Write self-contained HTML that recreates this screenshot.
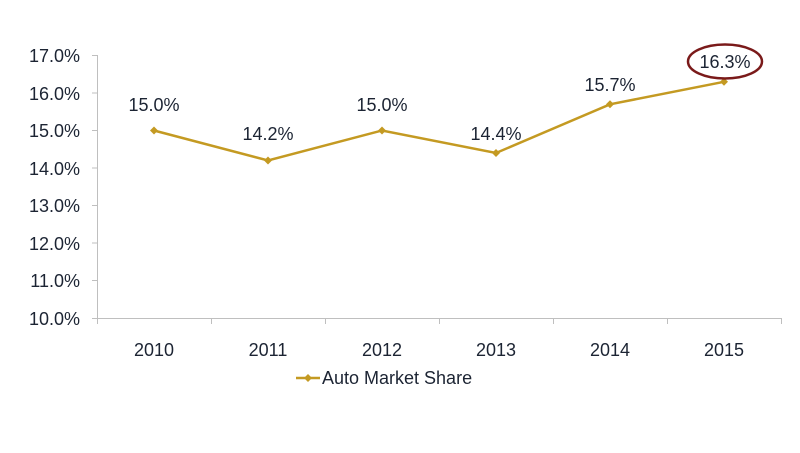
<!DOCTYPE html>
<html><head><style>body{margin:0;background:#fff}</style></head><body>
<svg width="800" height="448" xmlns="http://www.w3.org/2000/svg" font-family="Liberation Sans, sans-serif" font-size="18" fill="#1c2433">
<g stroke="#bfbfbf" stroke-width="1">
<line x1="97.5" y1="55" x2="97.5" y2="324"/>
<line x1="92" y1="318.5" x2="781" y2="318.5"/>
<g>
<line x1="92" y1="55.5" x2="97" y2="55.5"/><line x1="92" y1="93" x2="97" y2="93"/><line x1="92" y1="130.5" x2="97" y2="130.5"/><line x1="92" y1="168" x2="97" y2="168"/><line x1="92" y1="205.5" x2="97" y2="205.5"/><line x1="92" y1="243" x2="97" y2="243"/><line x1="92" y1="280.5" x2="97" y2="280.5"/>
<line x1="211.5" y1="318" x2="211.5" y2="324"/><line x1="325.5" y1="318" x2="325.5" y2="324"/><line x1="439.5" y1="318" x2="439.5" y2="324"/><line x1="553.5" y1="318" x2="553.5" y2="324"/><line x1="667.5" y1="318" x2="667.5" y2="324"/><line x1="781.5" y1="318" x2="781.5" y2="324"/>
</g></g>
<g text-anchor="end">
<text x="80" y="62">17.0%</text><text x="80" y="100">16.0%</text><text x="80" y="137">15.0%</text><text x="80" y="175">14.0%</text><text x="80" y="212">13.0%</text><text x="80" y="250">12.0%</text><text x="80" y="287">11.0%</text><text x="80" y="325">10.0%</text>
</g>
<g text-anchor="middle">
<text x="154" y="356">2010</text><text x="268" y="356">2011</text><text x="382" y="356">2012</text><text x="496" y="356">2013</text><text x="610" y="356">2014</text><text x="724" y="356">2015</text>
<text x="154" y="111">15.0%</text><text x="268" y="140">14.2%</text><text x="382" y="111">15.0%</text><text x="496" y="140">14.4%</text><text x="610" y="91">15.7%</text><text x="725" y="68">16.3%</text>
</g>
<polyline fill="none" stroke="#c49a22" stroke-width="2.5" points="154,130.5 268,160.5 382,130.5 496,153 610,104.3 724,81.8"/>
<g fill="#c49a22">
<path d="M154,126.5l4,4-4,4-4-4z"/><path d="M268,156.5l4,4-4,4-4-4z"/><path d="M382,126.5l4,4-4,4-4-4z"/><path d="M496,149l4,4-4,4-4-4z"/><path d="M610,100.3l4,4-4,4-4-4z"/><path d="M724,77.8l4,4-4,4-4-4z"/>
</g>
<ellipse cx="725" cy="61.5" rx="37" ry="17" fill="none" stroke="#7a1a1a" stroke-width="2.5"/>
<line x1="296" y1="378" x2="320" y2="378" stroke="#c49a22" stroke-width="2.5"/>
<path d="M308,374l4,4-4,4-4-4z" fill="#c49a22"/>
<text x="322" y="384">Auto Market Share</text>
</svg>
</body></html>
